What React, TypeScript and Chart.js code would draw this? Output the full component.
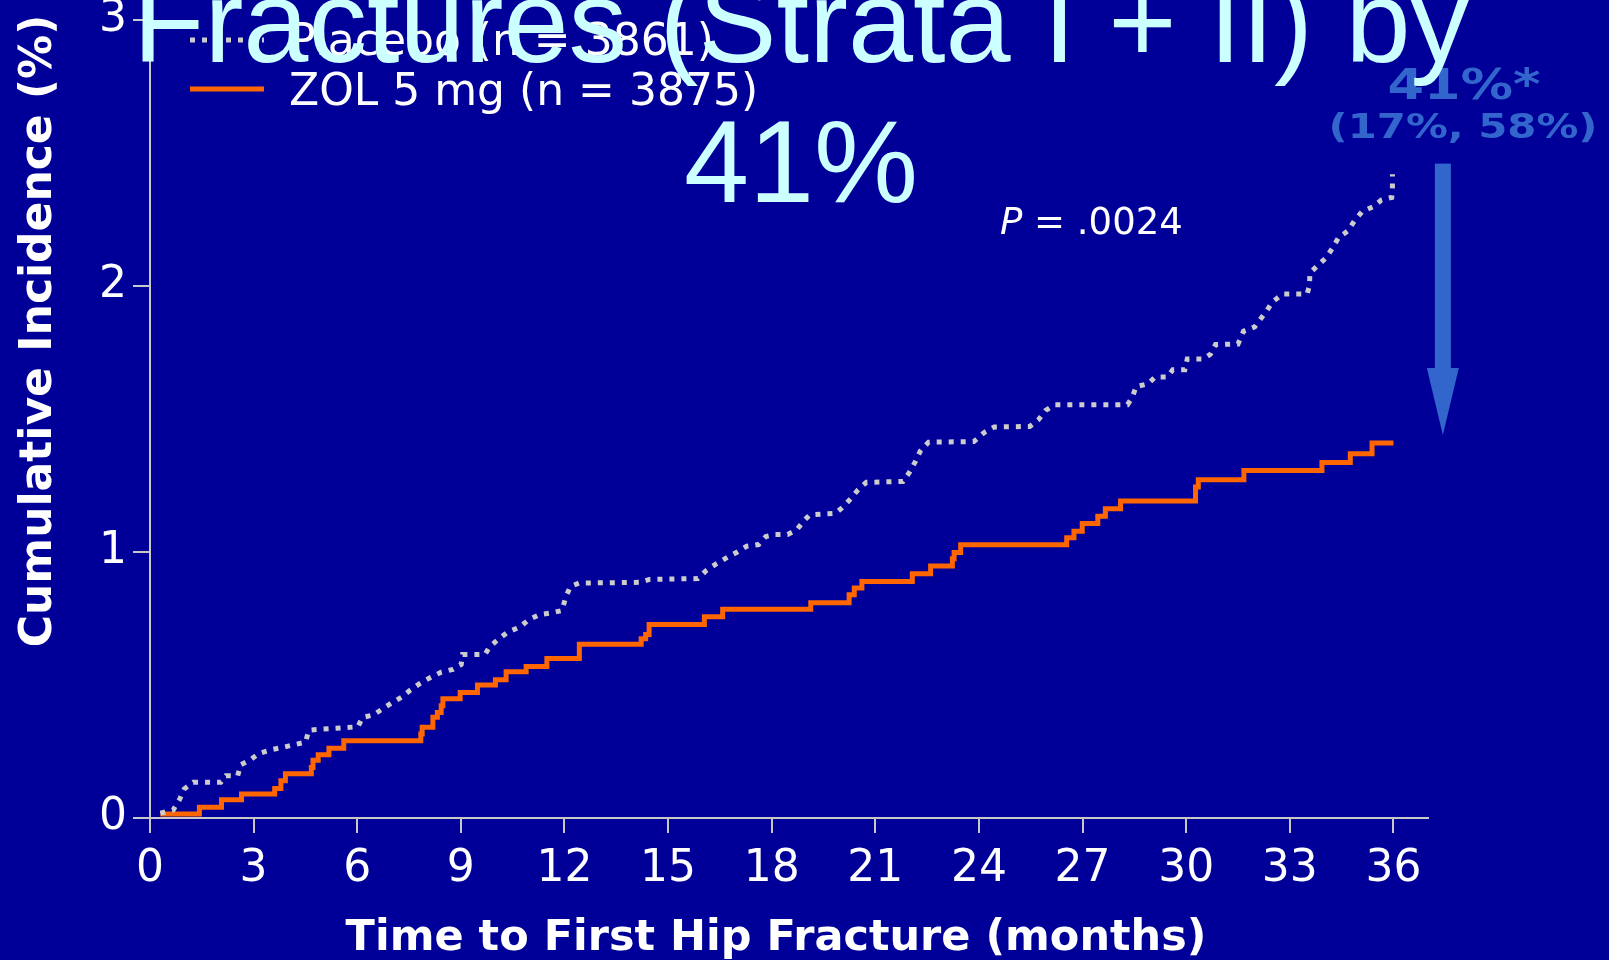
import React, { useEffect, useRef } from 'react';
import { Chart, registerables } from 'chart.js';

Chart.register(...registerables);

// ---- Data ----
// Placebo: drawn as a dotted path through the curve's visible vertices
const placeboMonths = [
  0.3, 0.67, 0.85, 0.99, 1.25, 2.05, 2.2, 2.54, 2.62, 2.9, 3.16, 3.52, 3.86, 4.19,
  4.5, 4.6, 4.97, 6.02, 6.15, 6.46, 6.73, 6.99, 7.28, 7.54, 7.83, 8.13, 8.43, 8.77,
  9.01, 9.05, 9.7, 9.83, 10.1, 10.36, 10.7, 10.97, 11.28, 11.62, 11.93, 12.03, 12.17,
  12.42, 14.17, 14.46, 15.86, 16.1, 16.39, 16.69, 16.99, 17.28, 17.62, 17.83, 18.1,
  18.46, 18.72, 18.94, 19.1, 19.84, 20.08, 20.31, 20.5, 20.74, 21.8, 21.98, 22.15,
  22.3, 22.54, 23.85, 24.15, 24.44, 25.47, 25.72, 25.93, 26.2, 28.3, 28.44, 28.55,
  28.9, 29.1, 29.45, 29.61, 29.96, 30.03, 30.5, 30.7, 30.85, 31.5, 31.66, 31.98,
  32.32, 32.5, 32.79, 33.5, 33.57, 33.58, 33.81, 34.07, 34.25, 34.41, 34.68, 34.88,
  35.09, 35.41, 35.65, 35.95, 35.97, 35.97,
];
const placeboValues = [
  0.018, 0.03, 0.068, 0.109, 0.134, 0.134, 0.159, 0.159, 0.2, 0.218, 0.243, 0.257, 0.266, 0.276,
  0.285, 0.33, 0.334, 0.343, 0.378, 0.387, 0.41, 0.432, 0.454, 0.481, 0.507, 0.529, 0.548, 0.559,
  0.577, 0.615, 0.615, 0.644, 0.673, 0.699, 0.717, 0.746, 0.765, 0.771, 0.78, 0.828, 0.87,
  0.883, 0.886, 0.897, 0.9, 0.93, 0.955, 0.978, 0.999, 1.022, 1.028, 1.058, 1.066,
  1.066, 1.083, 1.119, 1.14, 1.145, 1.171, 1.204, 1.234, 1.262, 1.265, 1.298, 1.338,
  1.379, 1.413, 1.415, 1.449, 1.47, 1.472, 1.497, 1.532, 1.554, 1.554, 1.582, 1.622,
  1.632, 1.658, 1.658, 1.685, 1.685, 1.726, 1.726, 1.743, 1.78, 1.782, 1.83, 1.846,
  1.905, 1.94, 1.97, 1.97, 2.002, 2.049, 2.077, 2.109, 2.146, 2.182, 2.207, 2.247,
  2.279, 2.298, 2.323, 2.333, 2.37, 2.42,
];

// ZOL: step function (month of each jump, new cumulative level)
const zolMonths = [
  0.3, 1.43, 2.07, 2.65, 3.61, 3.79, 3.92, 4.67, 4.72, 4.87, 5.18, 5.61, 7.84, 7.88,
  8.19, 8.32, 8.43, 8.48, 8.98, 9.48, 10.0, 10.31, 10.89, 11.49, 12.43, 14.22, 14.35,
  14.45, 16.05, 16.58, 19.13, 20.24, 20.39, 20.61, 22.07, 22.6, 23.23, 23.28, 23.47,
  26.54, 26.75, 26.99, 27.44, 27.66, 28.1, 30.27, 30.35, 31.67, 33.93, 34.75, 35.38, 36.0,
];
const zolValues = [
  0.015, 0.04, 0.069, 0.09, 0.111, 0.14, 0.166, 0.19, 0.217, 0.238, 0.262, 0.29, 0.316, 0.341,
  0.379, 0.397, 0.422, 0.448, 0.472, 0.5, 0.52, 0.55, 0.57, 0.6, 0.653, 0.674, 0.69,
  0.727, 0.757, 0.785, 0.809, 0.839, 0.865, 0.889, 0.918, 0.947, 0.975, 0.998, 1.027,
  1.054, 1.078, 1.107, 1.134, 1.163, 1.192, 1.244, 1.272, 1.306, 1.336, 1.369, 1.41, 1.41,
];

const xTickValues = [0, 3, 6, 9, 12, 15, 18, 21, 24, 27, 30, 33, 36];
const yTickValues = [0, 1, 2, 3];
const seriesLabels = ['Placebo (n = 3861)', 'ZOL 5 mg (n = 3875)'];
const titleLines = ['Fractures (Strata I + II) by', '41%'];
const xAxisTitle = 'Time to First Hip Fracture (months)';
const yAxisTitle = 'Cumulative Incidence (%)';
const reductionLabel = '41%*';
const ciLabel = '(17%, 58%)';
const pLetter = 'P';
const pRest = ' = .0024';
// arrow annotation, in data units
const arrowMonth = 37.43;
const arrowFrom = 2.46;
const arrowTo = 1.44;

const W = 1609;
const H = 960;
const BG = '#000099';
const AXIS = '#C8C8C8';
const ACCENT = '#3366CC';
const TITLE_COLOR = '#CCFFFF';

const bgPlugin = {
  id: 'bg',
  beforeDraw(chart: any) {
    const ctx = chart.ctx;
    ctx.save();
    ctx.fillStyle = BG;
    ctx.fillRect(0, 0, chart.width, chart.height);
    ctx.restore();
  },
};

const overlayPlugin = {
  id: 'overlay',
  afterDraw(chart: any) {
    const ctx: CanvasRenderingContext2D = chart.ctx;
    const xs = chart.scales.x;
    const ys = chart.scales.y;
    ctx.save();

    // Legend
    const lineY = [40, 89];
    const textBase = [55, 105];
    chart.data.datasets.forEach((ds: any, i: number) => {
      ctx.save();
      ctx.strokeStyle = ds.borderColor;
      ctx.lineWidth = ds.borderWidth;
      ctx.lineCap = 'butt';
      ctx.setLineDash(ds.borderDash || []);
      ctx.beginPath();
      ctx.moveTo(190, lineY[i]);
      ctx.lineTo(264, lineY[i]);
      ctx.stroke();
      ctx.restore();
      ctx.fillStyle = '#FFFFFF';
      ctx.font = "44px 'DejaVu Sans'";
      ctx.textAlign = 'left';
      ctx.textBaseline = 'alphabetic';
      ctx.fillText(ds.label, 289, textBase[i]);
    });

    // P value
    ctx.fillStyle = '#FFFFFF';
    ctx.textBaseline = 'alphabetic';
    ctx.textAlign = 'left';
    ctx.font = "italic 37px 'DejaVu Sans'";
    ctx.fillText(pLetter, 1000, 234);
    const pw = ctx.measureText(pLetter).width;
    ctx.font = "37px 'DejaVu Sans'";
    ctx.fillText(pRest, 1000 + pw, 234);

    // Arrow
    const ax = xs.getPixelForValue(arrowMonth);
    const aTop = ys.getPixelForValue(arrowFrom);
    const aTip = ys.getPixelForValue(arrowTo);
    const headLen = 67;
    ctx.fillStyle = ACCENT;
    ctx.fillRect(ax - 8, aTop, 16, aTip - headLen - aTop + 1);
    ctx.beginPath();
    ctx.moveTo(ax - 16, aTip - headLen);
    ctx.lineTo(ax + 16, aTip - headLen);
    ctx.lineTo(ax, aTip);
    ctx.closePath();
    ctx.fill();

    // Reduction annotation
    ctx.fillStyle = ACCENT;
    ctx.textAlign = 'center';
    ctx.save();
    ctx.translate(1464, 99);
    ctx.scale(1.25, 1);
    ctx.font = "bold 42px 'DejaVu Sans'";
    ctx.fillText(reductionLabel, 0, 0);
    ctx.restore();
    ctx.save();
    ctx.translate(1463, 138);
    ctx.scale(1.23, 1);
    ctx.font = "bold 34px 'DejaVu Sans'";
    ctx.fillText(ciLabel, 0, 0);
    ctx.restore();

    // Axis titles
    ctx.fillStyle = '#FFFFFF';
    ctx.font = "bold 43px 'DejaVu Sans'";
    ctx.textAlign = 'center';
    ctx.fillText(xAxisTitle, 776, 950);
    ctx.save();
    ctx.translate(51, 331);
    ctx.rotate(-Math.PI / 2);
    ctx.font = "bold 44px 'DejaVu Sans'";
    ctx.fillText(yAxisTitle, 0, 0);
    ctx.restore();

    // Slide title (drawn last, on top)
    ctx.fillStyle = TITLE_COLOR;
    ctx.font = "117px 'Liberation Sans'";
    ctx.textAlign = 'center';
    ctx.fillText(titleLines[0], 801, 62);
    ctx.fillText(titleLines[1], 801, 202);

    ctx.restore();
  },
};

export default function App() {
  const ref = useRef<HTMLCanvasElement | null>(null);

  useEffect(() => {
    const canvas = ref.current;
    if (!canvas) return;
    const chart = new Chart(canvas, {
      type: 'line',
      data: {
        datasets: [
          {
            label: seriesLabels[0],
            data: placeboMonths.map((m, i) => ({ x: m, y: placeboValues[i] })),
            borderColor: '#CCCCCC',
            borderWidth: 5,
            borderDash: [5, 7],
            borderCapStyle: 'butt',
            borderJoinStyle: 'miter',
            tension: 0,
            pointRadius: 0,
            fill: false,
          },
          {
            label: seriesLabels[1],
            data: zolMonths.map((m, i) => ({ x: m, y: zolValues[i] })),
            borderColor: '#FF6600',
            borderWidth: 5,
            stepped: 'before',
            pointRadius: 0,
            fill: false,
          },
        ],
      } as any,
      options: {
        responsive: false,
        animation: false,
        events: [],
        layout: { padding: { left: 0, top: 20, right: 181, bottom: 0 } },
        plugins: {
          legend: { display: false },
          title: { display: false },
          tooltip: { enabled: false },
        },
        scales: {
          x: {
            type: 'linear',
            position: 'bottom',
            min: 0,
            max: 37,
            afterBuildTicks: (s: any) => {
              s.ticks = xTickValues.map((v) => ({ value: v }));
            },
            afterFit: (s: any) => {
              s.height = 142;
              s.paddingLeft = 0;
              s.paddingRight = 0;
              s.paddingTop = 0;
              s.paddingBottom = 0;
            },
            ticks: {
              color: '#FFFFFF',
              font: { family: "'DejaVu Sans'", size: 44 },
              padding: 10,
              maxRotation: 0,
              minRotation: 0,
              autoSkip: false,
            },
            grid: {
              drawOnChartArea: false,
              drawTicks: true,
              tickLength: 15,
              color: AXIS,
              lineWidth: 2,
            },
            border: { display: true, color: AXIS, width: 2 },
          },
          y: {
            type: 'linear',
            position: 'left',
            min: 0,
            max: 3,
            afterBuildTicks: (s: any) => {
              s.ticks = yTickValues.map((v) => ({ value: v }));
            },
            afterFit: (s: any) => {
              s.width = 150;
              s.paddingLeft = 0;
              s.paddingRight = 0;
              s.paddingTop = 0;
              s.paddingBottom = 0;
            },
            ticks: {
              color: '#FFFFFF',
              font: { family: "'DejaVu Sans'", size: 44 },
              padding: 6,
              autoSkip: false,
            },
            grid: {
              drawOnChartArea: false,
              drawTicks: true,
              tickLength: 17,
              color: AXIS,
              lineWidth: 2,
            },
            border: { display: true, color: AXIS, width: 2 },
          },
        },
      } as any,
      plugins: [bgPlugin, overlayPlugin],
    });
    return () => chart.destroy();
  }, []);

  return (
    <div style={{ position: 'fixed', left: 0, top: 0, width: W, height: H, background: BG }}>
      <canvas ref={ref} width={W} height={H} style={{ display: 'block', width: W, height: H }} />
    </div>
  );
}
